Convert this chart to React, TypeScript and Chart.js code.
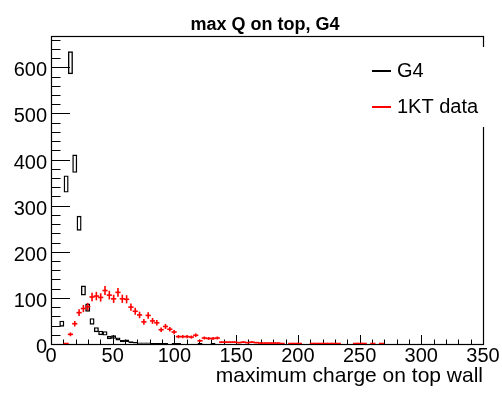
import React, { useEffect, useRef } from "react";
import { Chart, registerables } from "chart.js";

Chart.register(...registerables);

const FONT = '"Liberation Sans", Arial, Helvetica, sans-serif';

const TITLE = "max Q on top, G4";
const X_TITLE = "maximum charge on top wall";
const SERIES_NAMES = ["G4", "1KT data"];
const SERIES_COLORS = ["#000000", "#ff0000"];

const X_TICKS = [0, 50, 100, 150, 200, 250, 300, 350];
const Y_TICKS = [0, 100, 200, 300, 400, 500, 600];

// bin centres (bin width 3.5)
const BIN_CENTERS = [
  1.75, 5.25, 8.75, 12.25, 15.75, 19.25, 22.75, 26.25, 29.75, 33.25,
  36.75, 40.25, 43.75, 47.25, 50.75, 54.25, 57.75, 61.25, 64.75, 68.25,
  71.75, 75.25, 78.75, 82.25, 85.75, 89.25, 92.75, 96.25, 99.75, 103.25,
  106.75, 110.25, 113.75, 117.25, 120.75, 124.25, 127.75, 131.25, 134.75, 138.25,
  141.75, 145.25, 148.75, 152.25, 155.75, 159.25, 162.75, 166.25, 169.75, 173.25,
  176.75, 180.25, 183.75, 187.25, 190.75, 194.25, 197.75, 201.25, 204.75, 208.25,
  211.75, 215.25, 218.75, 222.25, 225.75, 229.25, 232.75, 236.25, 239.75, 243.25,
  246.75, 250.25, 253.75, 257.25, 260.75, 264.25, 267.75, 271.25, 274.75, 278.25,
];

const G4_VALUES = [
  0, 0, 44, 347, 610, 391, 262, 116, 79, 49,
  31, 24, 23, 14, 15, 11, 6, 7, 4, 3,
  2, 2, 2, 1, 1, 1, 1, 0, 1, 1,
  0, 0, 0, 0, 1, 0, 0, 1, 0, 0,
  0, 0, 0, 0, 0, 0, 0, 0, 0, 0,
  0, 0, 0, 0, 0, 0, 0, 0, 0, 0,
  0, 0, 0, 0, 0, 0, 0, 0, 0, 0,
  0, 0, 0, 0, 0, 0, 0, 0, 0, 0,
];

const DATA_VALUES = [
  0, 0, 0, 1, 21, 44, 68, 77, 81, 102,
  104, 101, 116, 106, 98, 112, 98, 97, 80, 71,
  63, 48, 62, 50, 46, 31, 38, 32, 26, 16,
  16, 16, 15, 19, 7, 13, 12, 12, 13, 4,
  4, 4, 4, 3, 4, 3, 4, 3, 2, 2,
  2, 2, 2, 1, 0, 1, 1, 1, 0, 0,
  1, 1, 1, 1, 1, 1, 1, 0, 0, 0,
  1, 1, 1, 0, 1, 0, 1, 0, 0, 0,
];

const G4_ERR_SCALE = 1.0;
const DATA_ERR_SCALE = 0.9;

const X_MIN = 0;
const X_MAX = 350;
const Y_MIN = 0;
const Y_MAX = 668;

const frameTicksPlugin = {
  id: "frameTicks",
  beforeDatasetsDraw(chart: any) {
    const { ctx, chartArea: a, scales } = chart;
    const x = scales.x;
    const y = scales.y;
    ctx.save();
    ctx.strokeStyle = "#000";
    ctx.lineWidth = 1;
    ctx.beginPath();
    for (let v = 20; v <= Y_MAX; v += 20) {
      const py = Math.round(y.getPixelForValue(v)) + 0.5;
      const len = v % 100 === 0 ? 19 : 9.5;
      ctx.moveTo(a.left, py);
      ctx.lineTo(a.left + len, py);
    }
    for (let v = 10; v <= X_MAX; v += 10) {
      const px = Math.round(x.getPixelForValue(v)) + 0.5;
      const len = v % 50 === 0 ? 9 : 4.5;
      ctx.moveTo(px, a.bottom);
      ctx.lineTo(px, a.bottom - len);
    }
    ctx.stroke();
    ctx.lineWidth = 1.2;
    ctx.strokeRect(a.left + 0.5, a.top + 0.5, a.right - a.left, a.bottom - a.top);
    ctx.restore();
  },
  afterDraw(chart: any) {
    const { ctx, chartArea: a } = chart;
    ctx.save();
    ctx.fillStyle = "#000";
    ctx.font = `bold 18px ${FONT}`;
    ctx.textAlign = "center";
    ctx.textBaseline = "alphabetic";
    ctx.fillText(TITLE, (a.left + a.right) / 2 - 2, 30);
    ctx.fillStyle = "#fff";
    ctx.fillRect(a.right - 128, a.top + 11, 140, 80);
    const rows = [71, 107];
    SERIES_NAMES.forEach((name, i) => {
      ctx.strokeStyle = SERIES_COLORS[i];
      ctx.lineWidth = 2;
      ctx.beginPath();
      ctx.moveTo(a.right - 111, rows[i]);
      ctx.lineTo(a.right - 92, rows[i]);
      ctx.stroke();
      ctx.fillStyle = "#000";
      ctx.font = `20px ${FONT}`;
      ctx.textAlign = "left";
      ctx.textBaseline = "middle";
      ctx.fillText(name, a.right - 86, rows[i] + 0.5);
    });
    ctx.restore();
  },
};

export default function App() {
  const canvasRef = useRef<HTMLCanvasElement | null>(null);

  useEffect(() => {
    const canvas = canvasRef.current;
    if (!canvas) return;

    const g4Boxes: any[] = [];
    const dataBars: any[] = [];
    const dataPoints: any[] = [];
    BIN_CENTERS.forEach((xc, i) => {
      const g = G4_VALUES[i];
      if (g > 0) {
        const e = Math.sqrt(g) * G4_ERR_SCALE;
        g4Boxes.push({ x: xc, y: [g - e, g + e] });
      }
      const d = DATA_VALUES[i];
      if (d > 0) {
        const e = Math.sqrt(d) * DATA_ERR_SCALE;
        dataBars.push({ x: xc, y: [d - e, d + e] });
        dataPoints.push({ x: xc, y: d });
      }
    });

    const chart = new Chart(canvas, {
      type: "bar",
      data: {
        datasets: [
          {
            type: "scatter",
            label: SERIES_NAMES[1],
            data: dataPoints,
            showLine: false,
            pointStyle: "line",
            pointRadius: 2.6,
            pointBorderWidth: 1.6,
            pointBorderColor: SERIES_COLORS[1],
            pointBackgroundColor: SERIES_COLORS[1],
            borderColor: SERIES_COLORS[1],
          } as any,
          {
            type: "bar",
            label: SERIES_NAMES[1] + " errors",
            data: dataBars,
            backgroundColor: SERIES_COLORS[1],
            borderWidth: 0,
            barThickness: 1.6,
            inflateAmount: 0,
            grouped: false,
          } as any,
          {
            type: "bar",
            label: SERIES_NAMES[0],
            data: g4Boxes,
            backgroundColor: "rgba(0,0,0,0)",
            borderColor: SERIES_COLORS[0],
            borderWidth: 1.4,
            borderSkipped: false,
            grouped: false,
            barPercentage: 1.15,
            categoryPercentage: 1,
          } as any,
        ],
      },
      options: {
        animation: false,
        responsive: false,
        events: [],
        layout: { padding: { top: 36, right: 19, left: 0, bottom: 0 } },
        plugins: {
          legend: { display: false },
          tooltip: { enabled: false },
          title: { display: false },
        },
        scales: {
          x: {
            type: "linear",
            min: X_MIN,
            max: X_MAX,
            offset: false,
            afterBuildTicks: (s: any) => {
              s.ticks = X_TICKS.map((value) => ({ value }));
            },
            afterFit: (s: any) => {
              s.height = 50;
            },
            ticks: {
              color: "#000",
              font: { family: FONT, size: 20 },
              padding: 0,
              maxRotation: 0,
              autoSkip: false,
            },
            grid: { display: false, drawTicks: false },
            border: { display: false },
            title: {
              display: true,
              text: X_TITLE,
              align: "end",
              color: "#000",
              font: { family: FONT, size: 21 },
              padding: { top: 0, bottom: 5 },
            },
          },
          y: {
            type: "linear",
            min: Y_MIN,
            max: Y_MAX,
            afterBuildTicks: (s: any) => {
              s.ticks = Y_TICKS.map((value) => ({ value }));
            },
            afterFit: (s: any) => {
              s.width = 51;
            },
            ticks: {
              color: "#000",
              font: { family: FONT, size: 20 },
              padding: 4,
              labelOffset: 3.5,
            },
            grid: { display: false, drawTicks: false },
            border: { display: false },
          },
        },
      } as any,
      plugins: [frameTicksPlugin],
    });

    return () => chart.destroy();
  }, []);

  return (
    <canvas
      ref={canvasRef}
      width={502}
      height={394}
      style={{ position: "absolute", left: 0, top: 0, display: "block", background: "#fff" }}
    />
  );
}
